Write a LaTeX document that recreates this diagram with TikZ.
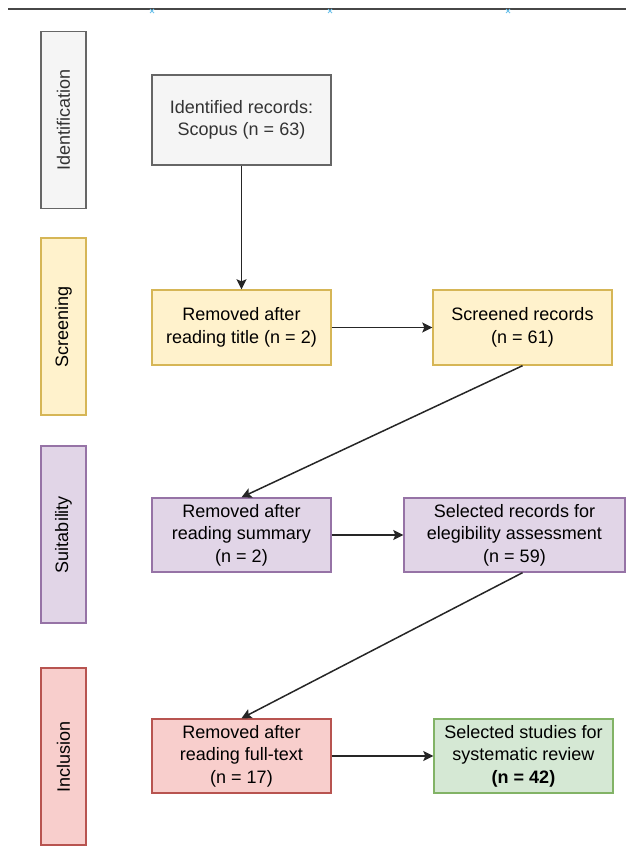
\documentclass[tikz,border=0pt]{standalone}
\usepackage{fontspec}
\setmainfont{Liberation Sans}
\usetikzlibrary{arrows.meta}

\definecolor{grayfill}{HTML}{F5F5F5}
\definecolor{graydraw}{HTML}{666666}
\definecolor{graytext}{HTML}{333333}
\definecolor{yellowfill}{HTML}{FFF2CC}
\definecolor{yellowdraw}{HTML}{D6B656}
\definecolor{purplefill}{HTML}{E1D5E7}
\definecolor{purpledraw}{HTML}{9673A6}
\definecolor{redfill}{HTML}{F8CECC}
\definecolor{reddraw}{HTML}{B85450}
\definecolor{greenfill}{HTML}{D5E8D4}
\definecolor{greendraw}{HTML}{82B366}
\definecolor{markblue}{HTML}{6EC1EA}

\begin{document}
\begin{tikzpicture}[x=1bp, y=-1bp, line width=1.4bp,
  font=\fontsize{18bp}{22.5bp}\selectfont,
  box/.style={rectangle, draw, align=center, inner sep=0pt, minimum width=179bp},
  side/.style={rectangle, draw, rotate=90, inner sep=0pt, minimum width=177bp, minimum height=45bp},
  grey/.style={fill=grayfill, draw=graydraw, text=graytext},
  yellow/.style={fill=yellowfill, draw=yellowdraw},
  purple/.style={fill=purplefill, draw=purpledraw},
  red/.style={fill=redfill, draw=reddraw},
  green/.style={fill=greenfill, draw=greendraw},
  arr/.style={-{Stealth[length=10bp,width=10bp,inset=2bp]}, line width=1.5bp, draw=black!85}]

\useasboundingbox (0,0) rectangle (626,846);

\draw[line width=2.5bp, black!72] (8,9)--(626,9);
\foreach \x in {152,330,508}
  \draw[markblue, line width=1bp] (\x-2,9)--(\x+2,13) (\x+2,9)--(\x-2,13);

\node[side, grey] (l1) at (63.5,120) {Identification};
\node[side, yellow] (l2) at (63.5,326.5) {Screening};
\node[side, purple] (l3) at (63.5,534.5) {Suitability};
\node[side, red] (l4) at (63.5,756.5) {Inclusion};

\node[box, grey, minimum height=90bp] (b1) at (241.5,120) {Identified records:\\Scopus (n = 63)};
\node[box, yellow, minimum height=75bp] (b2) at (241.5,327.5) {Removed after\\reading title (n = 2)};
\node[box, yellow, minimum height=75bp] (b3) at (522.5,327.5) {Screened records\\(n = 61)};

\node[box, purple, minimum height=74bp] (b4) at (241.5,535) {Removed after\\reading summary\\(n = 2)};
\node[box, purple, minimum height=74bp, minimum width=221bp] (b5) at (514.5,535) {Selected records for\\elegibility assessment\\(n = 59)};

\node[box, red, minimum height=74bp] (b6) at (241.5,756) {Removed after\\reading full-text\\(n = 17)};
\node[box, green, minimum height=74bp] (b7) at (523.5,756) {Selected studies for\\systematic review\\\textbf{(n = 42)}};

\draw[arr] (b1)--(b2);
\draw[arr] (b2)--(b3);
\draw[arr] (b3.south)--(b4.north);
\draw[arr] (b4)--(b5);
\draw[arr] (b3.south |- b5.south)--(b6.north);
\draw[arr] (b6)--(b7);

\end{tikzpicture}
\end{document}
